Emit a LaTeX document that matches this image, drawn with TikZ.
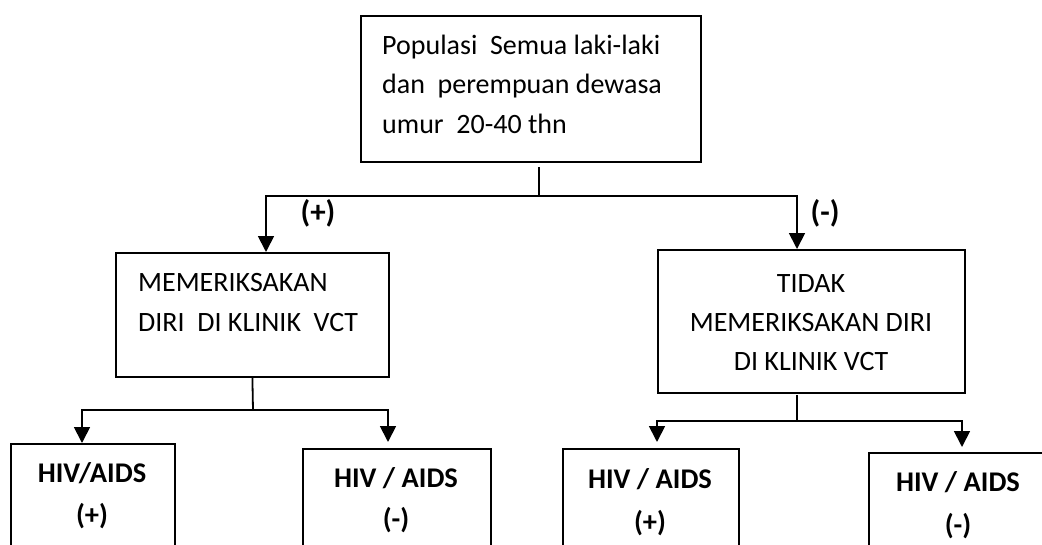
\documentclass[tikz,border=0pt]{standalone}
\usepackage{fontspec}
\setmainfont{Carlito}
\usetikzlibrary{arrows.meta}
\tikzset{
  box/.style={draw, line width=1.8pt, rectangle, inner sep=0pt, anchor=north west},
  txt/.style={inner sep=0pt, font=\fontsize{28}{40}\selectfont},
  btxt/.style={inner sep=0pt, font=\fontsize{28.5}{40}\selectfont\bfseries},
  ltxt/.style={inner sep=0pt, font=\fontsize{31}{40}\selectfont\bfseries},
  conn/.style={line width=1.8pt},
  arr/.style={line width=1.8pt, -{Triangle[width=16pt,length=16pt]}}
}
\begin{document}
\begin{tikzpicture}[x=1pt,y=-1pt]
\useasboundingbox (0,0) rectangle (1042,544);
\clip (0,0) rectangle (1042,544);
% boxes
\node[box, minimum width=340, minimum height=146] (top) at (360,15) {};
\node[box, minimum width=273, minimum height=124] (lbox) at (115,252) {};
\node[box, minimum width=307, minimum height=143] (rbox) at (657,249) {};
\node[box, minimum width=164, minimum height=130] (b1) at (10,443) {};
\node[box, minimum width=188, minimum height=130] (b2) at (302,448) {};
\node[box, minimum width=176, minimum height=130] (b3) at (562,448) {};
\node[box, minimum width=180, minimum height=130] (b4) at (868,452) {};
% texts
\node[txt, anchor=base west] (t1) at (382,54) {Populasi\ \ Semua laki-laki};
\node[txt, anchor=base west] (t2) at (382,93) {dan\ \ perempuan dewasa};
\node[txt, anchor=base west] (t3) at (382,133) {umur\ \ 20-40 thn};
\node[txt, anchor=base west] (l1) at (138,291) {MEMERIKSAKAN};
\node[txt, anchor=base west] (l2) at (138,331) {DIRI\ \ DI KLINIK\ \ VCT};
\node[txt, anchor=base] (r1) at (811,292) {TIDAK};
\node[txt, anchor=base] (r2) at (811,331) {MEMERIKSAKAN DIRI};
\node[txt, anchor=base] (r3) at (811,370) {DI KLINIK VCT};
\node[btxt, anchor=base] (b1a) at (92,482) {HIV/AIDS};
\node[btxt, anchor=base] (b1b) at (92,524) {(+)};
\node[btxt, anchor=base] (b2a) at (396,487) {HIV / AIDS};
\node[btxt, anchor=base] (b2b) at (396,528) {(-)};
\node[btxt, anchor=base] (b3a) at (650,488) {HIV / AIDS};
\node[btxt, anchor=base] (b3b) at (650,531) {(+)};
\node[btxt, anchor=base] (b4a) at (958,491) {HIV / AIDS};
\node[btxt, anchor=base] (b4b) at (958,534) {(-)};
\node[ltxt, anchor=base] (plus) at (318,222) {(+)};
\node[ltxt, anchor=base] (minus) at (825,222) {(-)};
% connectors top
\coordinate (ts) at (539,167);
\coordinate (j) at (539,196);
\coordinate (jl) at (266,196);
\coordinate (jr) at (797,196);
\draw[conn] (ts) -- (j);
\draw[arr] (j) -- (jl) -- (jl |- lbox.north);
\draw[arr] (j) -- (jr) -- (jr |- rbox.north);
% connectors left
\coordinate (lj) at (253,410);
\coordinate (lja) at (82,410);
\coordinate (ljb) at (388,410);
\draw[conn] (lbox.south) -- (lj);
\draw[arr] (lj) -- (lja) -- (lja |- b1.north);
\draw[arr, shorten >=6pt] (lj) -- (ljb) -- (ljb |- b2.north);
% connectors right
\coordinate (rs) at (797,395);
\coordinate (rj) at (797,421);
\coordinate (rja) at (657,421);
\coordinate (rjb) at (962,421);
\draw[conn] (rs) -- (rj);
\draw[arr, shorten >=6pt] (rj) -- (rja) -- (rja |- b3.north);
\draw[arr, shorten >=5pt] (rj) -- (rjb) -- (rjb |- b4.north);
\end{tikzpicture}
\end{document}
